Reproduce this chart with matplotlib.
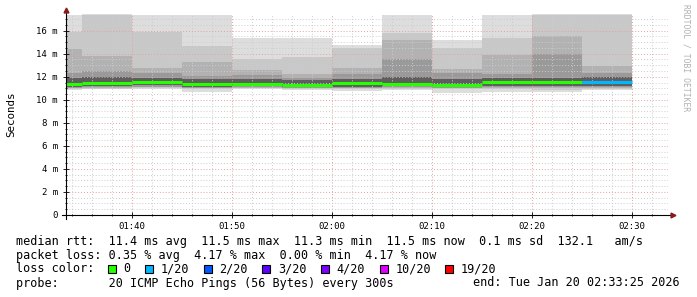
import matplotlib.pyplot as plt
import numpy as np

# 5-minute steps (end time of each step)
seg_end = ['01:35', '01:40', '01:45', '01:50', '01:55', '02:00',
           '02:05', '02:10', '02:15', '02:20', '02:25', '02:30']

# smoke bands (ms), outer -> inner
upper = [
    [17.40, 17.45, 17.40, 17.40, 15.35, 15.35, 14.80, 17.40, 15.20, 17.40, 17.45, 17.45],
    [15.90, 17.40, 15.90, 14.70, 13.55, 13.75, 14.50, 15.80, 14.50, 15.40, 17.40, 17.40],
    [14.40, 13.80, 12.80, 13.30, 12.60, 12.20, 12.75, 15.20, 12.70, 13.90, 15.50, 12.90],
    [12.35, 12.50, 12.35, 12.10, 12.17, 11.90, 12.20, 13.50, 12.30, 12.20, 14.00, 12.35],
    [11.90, 12.00, 11.90, 11.85, 11.80, 11.70, 11.80, 12.00, 11.80, 11.90, 11.90, 11.95],
]
lower = [
    [10.85, 10.90, 10.90, 10.70, 10.90, 10.85, 10.80, 10.85, 10.60, 10.70, 10.70, 10.85],
    [10.95, 10.95, 11.00, 10.90, 11.00, 10.95, 10.90, 10.95, 10.90, 10.95, 10.85, 10.95],
    [11.00, 11.05, 11.10, 11.00, 11.05, 11.00, 11.00, 11.00, 11.00, 11.00, 11.00, 11.00],
    [11.05, 11.10, 11.15, 11.05, 11.10, 11.05, 11.05, 11.10, 11.05, 11.10, 11.10, 11.10],
    [11.15, 11.20, 11.30, 11.15, 11.20, 11.10, 11.10, 11.20, 11.10, 11.20, 11.20, 11.20],
]
median = [11.33, 11.50, 11.55, 11.35, 11.40, 11.30, 11.50, 11.40, 11.30, 11.55, 11.53, 11.53]
loss = [0, 0, 0, 0, 0, 0, 0, 0, 0, 0, 0, 1]  # lost pings out of 20

loss_labels = ['0', '1/20', '2/20', '3/20', '4/20', '10/20', '19/20']
loss_levels = [0, 1, 2, 3, 4, 10, 19]
loss_colors = ['#26ff00', '#00b8ff', '#0059ff', '#5e00ff', '#7e00ff', '#dd00ff', '#ff0000']

stats_line = 'median rtt:  11.4 ms avg  11.5 ms max  11.3 ms min  11.5 ms now  0.1 ms sd  132.1   am/s'
loss_line = 'packet loss: 0.35 % avg  4.17 % max  0.00 % min  4.17 % now'
probe_line = 'probe:       20 ICMP Echo Pings (56 Bytes) every 300s'
end_line = 'end: Tue Jan 20 02:33:25 2026'

shades = ['#dddddd', '#c8c8c8', '#b2b2b2', '#9a9a9a', '#5e5e5e']


def to_min(s):
    h, m = s.split(':')
    return int(h) * 60 + int(m)


ends = np.array([to_min(s) for s in seg_end], dtype=float)
edges = np.concatenate([[ends[0] - 5], ends])

W, H = 697, 297
fig = plt.figure(figsize=(W / 100, H / 100), dpi=100)
ax = fig.add_axes([66 / W, 1 - 215 / H, (668 - 66) / W, (215 - 14) / H])

# smoke
for k in range(len(upper)):
    u = np.append(upper[k], upper[k][-1])
    l = np.append(lower[k], lower[k][-1])
    ax.fill_between(edges, l, u, step='post', color=shades[k], lw=0, zorder=1)

# median line coloured by loss
for i in range(len(ends)):
    c = loss_colors[max(j for j, lv in enumerate(loss_levels) if lv <= loss[i])]
    ax.plot([edges[i], edges[i + 1]], [median[i], median[i]], color=c,
            lw=2.2, solid_capstyle='butt', zorder=4)

ax.set_xlim(93.4, 153.6)
ax.set_ylim(0, 17.45)

ax.set_yticks(np.arange(0, 17, 2))
ax.set_yticklabels(['0'] + ['%d m' % v for v in range(2, 17, 2)])
ax.set_yticks(np.arange(0, 17.45, 0.5), minor=True)
xt = np.arange(100, 151, 10)
ax.set_xticks(xt)
ax.set_xticklabels(['%02d:%02d' % (v // 60, v % 60) for v in xt])
ax.set_xticks(np.arange(94, 154, 2), minor=True)

ax.set_axisbelow(False)
ax.grid(which='major', color='#e6a0a0', lw=0.7, ls=(0, (1, 2)), zorder=3)
ax.grid(which='minor', color='#cccccc', lw=0.7, ls=(0, (1, 2)), zorder=2)
ax.tick_params(which='both', direction='inout', colors='#000000',
               labelsize=6.5, width=0.6, labelfontfamily='DejaVu Sans Mono')
ax.tick_params(which='major', length=4, pad=3)
ax.tick_params(which='minor', length=2)
ax.tick_params(axis='y', pad=4)
for sp in ax.spines.values():
    sp.set_visible(False)

# axes with arrows
ax.plot([-4 / 602, 1.008], [0, 0], color='black', lw=0.8, transform=ax.transAxes, clip_on=False, zorder=5)
ax.plot([0, 0], [-4 / 201, 1.02], color='black', lw=0.8, transform=ax.transAxes, clip_on=False, zorder=5)
ax.plot([1.008], [0], marker='>', color='#8b1a1a', ms=3.5, transform=ax.transAxes, clip_on=False, zorder=6)
ax.plot([0], [1.02], marker='^', color='#8b1a1a', ms=3.5, transform=ax.transAxes, clip_on=False, zorder=6)

fig.text(11 / W, 1 - 114 / H, 'Seconds', rotation=90, ha='center', va='center',
         family='DejaVu Sans Mono', fontsize=7.8)
fig.text(686 / W, 1 - 4 / H, 'RRDTOOL / TOBI OETIKER', rotation=270, ha='center', va='top',
         family='DejaVu Sans Mono', fontsize=5.8, color='#b0b0b0')

# legend
cw = 7.07
x0 = 15.6
fs = 8.45


def fx(px):
    return px / W


def fy(py):
    return 1 - py / H


fig.text(fx(x0), fy(241), stats_line, family='DejaVu Sans Mono', fontsize=fs, va='center')
fig.text(fx(x0), fy(255), loss_line, family='DejaVu Sans Mono', fontsize=fs, va='center')
fig.text(fx(x0), fy(269), 'loss color:', family='DejaVu Sans Mono', fontsize=fs, va='center')
fig.text(fx(x0), fy(283), probe_line, family='DejaVu Sans Mono', fontsize=fs, va='center')
fig.text(fx(680), fy(283), end_line, family='DejaVu Sans Mono', fontsize=fs, va='center', ha='right')

cx = 13.0
for lab, col in zip(loss_labels, loss_colors):
    bx = x0 + cx * cw
    fig.patches.append(plt.Rectangle((fx(bx), fy(273)), 8 / W, 8 / H, transform=fig.transFigure,
                                     facecolor=col, edgecolor='black', lw=0.8))
    fig.text(fx(bx + 2.2 * cw), fy(269), lab, family='DejaVu Sans Mono', fontsize=fs, va='center')
    cx += 2.2 + len(lab) + 2.1

fig.savefig('out.png', dpi=100, facecolor='white')
